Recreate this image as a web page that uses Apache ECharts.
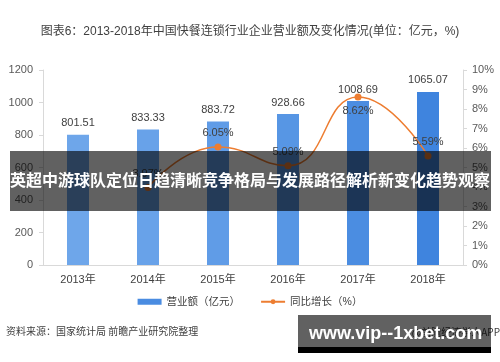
<!DOCTYPE html>
<html>
<head>
<meta charset="utf-8">
<script src="https://cdn.jsdelivr.net/npm/echarts@6/dist/echarts.min.js"></script>
<style>
html,body{margin:0;padding:0;background:#fff;}
#c{width:500px;height:362px;}
</style>
</head>
<body>
<div id="c"></div>
<script>
var categories = ['2013年','2014年','2015年','2016年','2017年','2018年'];
var revenue = [801.51, 833.33, 883.72, 928.66, 1008.69, 1065.07];
var growth = [null, 3.97, 6.05, 5.09, 8.62, 5.59];
var growthLabelPos = ['top','top','top','top','bottom','top'];
var barColors = ['#6ea6ea','#68a2e9','#609ce7','#5796e4','#4b8de1','#3f84de'];
var leftTicks = [0, 200, 400, 600, 800, 1000, 1200];
var rightTicks = [0,1,2,3,4,5,6,7,8,9,10];

var FONT = "'Liberation Sans','Noto Sans CJK SC',sans-serif";
var chart = echarts.init(document.getElementById('c'), null, {renderer:'canvas'});
var option = {
  backgroundColor:'#fff',
  animation:false,
  textStyle:{fontFamily:FONT},
  title:{
    text:'图表6：2013-2018年中国快餐连锁行业企业营业额及变化情况(单位：亿元，%)',
    left:'center', top:21,
    textStyle:{fontSize:12, fontWeight:'normal', color:'#404040', fontFamily:FONT}
  },
  grid:{left:43, right:37, top:70, bottom:97, containLabel:false},
  legend:{
    bottom:50, left:'center', itemGap:20, itemWidth:24, itemHeight:6,
    textStyle:{fontSize:10.5, color:'#404040', fontFamily:FONT},
    data:[{name:'营业额（亿元）', icon:'rect', itemStyle:{color:'#4a8ce1'}}, {name:'同比增长（%）'}]
  },
  xAxis:{
    type:'category', data:categories,
    axisLine:{lineStyle:{color:'#d9d9d9'}},
    axisTick:{show:false},
    axisLabel:{color:'#404040', fontSize:11, margin:9, fontFamily:FONT}
  },
  yAxis:[{
    type:'value', min:leftTicks[0], max:leftTicks[leftTicks.length-1], interval:leftTicks[1]-leftTicks[0],
    axisLine:{show:true, lineStyle:{color:'#d9d9d9'}},
    axisTick:{show:true, length:4, lineStyle:{color:'#d9d9d9'}},
    splitLine:{show:false},
    axisLabel:{color:'#595959', fontSize:11, margin:10, fontFamily:FONT, formatter:function(v){return String(v);}}
  },{
    type:'value', min:rightTicks[0], max:rightTicks[rightTicks.length-1], interval:rightTicks[1]-rightTicks[0],
    axisLine:{show:true, lineStyle:{color:'#d9d9d9'}},
    axisTick:{show:true, length:4, lineStyle:{color:'#d9d9d9'}},
    splitLine:{show:false},
    axisLabel:{color:'#595959', fontSize:11, margin:9, formatter:'{value}%', fontFamily:FONT}
  }],
  series:[{
    name:'营业额（亿元）', type:'bar', barWidth:22, yAxisIndex:0,
    data:revenue.map(function(v,i){return {value:v, itemStyle:{color:barColors[i]}};}),
    label:{show:true, position:'top', distance:6, color:'#404040', fontSize:11, fontFamily:FONT}
  },{
    name:'同比增长（%）', type:'line', yAxisIndex:1, smooth:0.5,
    symbol:'circle', symbolSize:7, connectNulls:false,
    itemStyle:{color:'#ed7d31'},
    lineStyle:{color:'#ed7d31', width:1.5},
    data:growth.map(function(v,i){return {value:v, label:{position:growthLabelPos[i]}};}),
    label:{show:true, distance:5, color:'#404040', fontSize:11, fontFamily:FONT,
      formatter:function(p){return p.value.toFixed(2)+'%';}}
  }],
  graphic:[
    {type:'text', left:6, top:326, z:10,
      style:{text:'资料来源：国家统计局 前瞻产业研究院整理', fill:'#404040', font:"10px 'Noto Sans CJK SC',sans-serif"}},
    {type:'text', right:0, top:327, z:10,
      style:{text:'@前瞻经济学人APP', fill:'#404040', font:"10px 'Noto Sans CJK SC',sans-serif"}},
    {type:'rect', left:10, top:151, z:100, shape:{width:481, height:60}, style:{fill:'rgba(0,0,0,0.62)'}},
    {type:'text', left:'center', top:172, z:101,
      style:{text:'英超中游球队定位日趋清晰竞争格局与发展路径解析新变化趋势观察', fill:'#fff', font:"bold 16px 'Noto Sans CJK SC',sans-serif"}},
    {type:'rect', left:298, top:315, z:100, shape:{width:193, height:32}, style:{fill:'rgba(0,0,0,0.62)'}},
    {type:'rect', left:298, top:347, z:100, shape:{width:193, height:6}, style:{fill:'#000'}},
    {type:'text', left:309, top:325, z:101,
      style:{text:'www.vip--1xbet.com', fill:'#fff', font:"bold 18px 'Liberation Sans',sans-serif"}}
  ]
};
chart.setOption(option);
</script>
</body>
</html>
